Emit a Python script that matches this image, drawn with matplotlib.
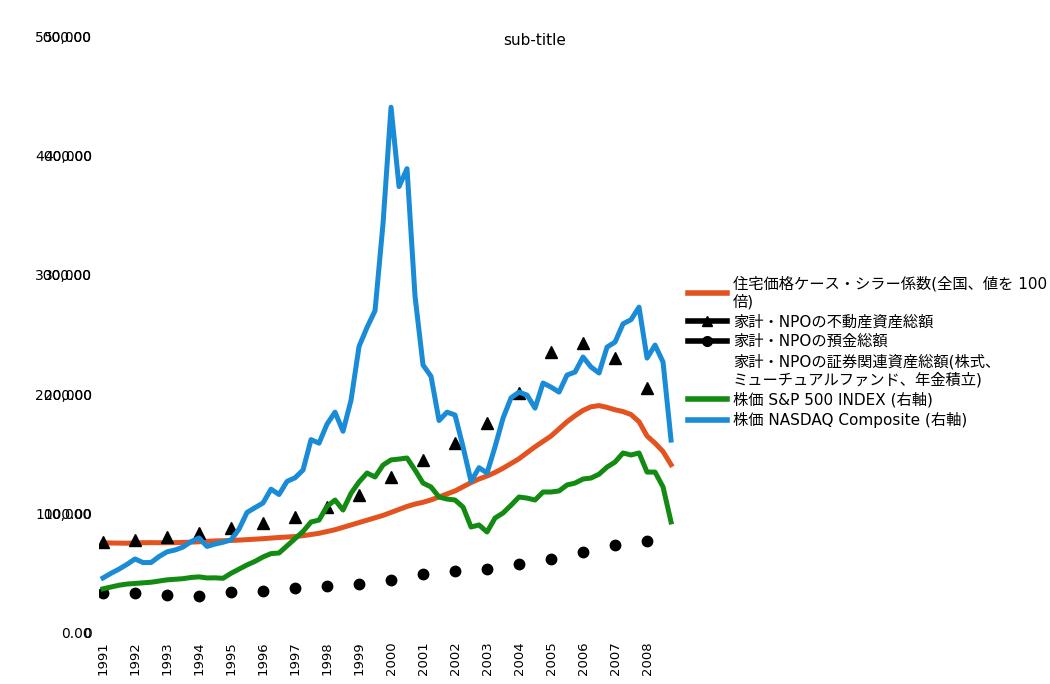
import matplotlib
matplotlib.use("Agg")
import matplotlib.pyplot as plt
from matplotlib.lines import Line2D
from matplotlib.ticker import FuncFormatter, MultipleLocator

plt.rcParams['font.family'] = ['DejaVu Sans', 'Noto Sans CJK JP']

# 年次データ (1991-2008)
years = list(range(1991, 2009))
real_estate = [7620, 7790, 8040, 8380, 8790, 9210, 9720, 10550, 11560, 13070,
               14490, 15910, 17590, 20100, 23530, 24290, 23030, 20520]
deposits = [3350, 3350, 3180, 3100, 3430, 3520, 3770, 3940, 4100, 4440,
            4940, 5190, 5360, 5780, 6200, 6780, 7370, 7700]

# 四半期データ (1991Q1-2008Q4)
case_shiller_x100 = [7560, 7540, 7530, 7520, 7550, 7560, 7570, 7560,
                     7560, 7570, 7590, 7610, 7640, 7680, 7710, 7730,
                     7750, 7780, 7820, 7860, 7900, 7950, 8000, 8040,
                     8080, 8150, 8250, 8350, 8500, 8650, 8850, 9050,
                     9250, 9450, 9650, 9850, 10100, 10350, 10600, 10800,
                     10950, 11150, 11400, 11650, 11900, 12250, 12600, 12900,
                     13150, 13450, 13800, 14200, 14600, 15100, 15600, 16050,
                     16500, 17100, 17700, 18200, 18650, 18950, 19050, 18900,
                     18700, 18550, 18300, 17700, 16500, 15900, 15200, 14100]
sp500 = [370, 385, 400, 410, 415, 420, 425, 435,
         445, 450, 455, 465, 470, 461, 462, 458,
         500, 535, 570, 600, 637, 665, 670, 730,
         790, 850, 930, 946, 1060, 1114, 1030, 1170,
         1265, 1340, 1307, 1407, 1450, 1457, 1466, 1365,
         1256, 1223, 1139, 1122, 1114, 1055, 888, 905,
         846, 963, 1005, 1070, 1139, 1130, 1114, 1181,
         1181, 1190, 1240, 1256, 1290, 1298, 1330, 1390,
         1432, 1508, 1491, 1508, 1348, 1348, 1223, 930]
nasdaq = [461, 500, 535, 575, 620, 590, 590, 640,
          680, 695, 720, 765, 796, 725, 745, 760,
          780, 870, 1010, 1050, 1089, 1205, 1160, 1270,
          1300, 1365, 1620, 1590, 1750, 1850, 1690, 1950,
          2400, 2560, 2700, 3430, 4405, 3740, 3890, 2820,
          2245, 2150, 1780, 1850, 1826, 1560, 1270, 1385,
          1340, 1560, 1800, 1970, 2018, 1993, 1884, 2094,
          2060, 2018, 2161, 2186, 2312, 2228, 2178, 2395,
          2437, 2590, 2625, 2730, 2303, 2412, 2270, 1616]

labels = ['住宅価格ケース・シラー係数(全国、値を 100\n倍)',
          '家計・NPOの不動産資産総額',
          '家計・NPOの預金総額',
          '家計・NPOの証券関連資産総額(株式、\nミューチュアルファンド、年金積立)',
          '株価 S&P 500 INDEX (右軸)',
          '株価 NASDAQ Composite (右軸)']
colors = ['#e2531f', '#000000', '#000000', 'none', '#138b13', '#1a8bd6']

q = list(range(len(nasdaq)))
qy = [4 * k for k in range(len(years))]

fig = plt.figure(figsize=(10.5, 6.84), dpi=100)
ax = fig.add_axes((0.0943, 0.0746, 0.5486, 0.8725))
ax2 = ax.twinx()

ax.plot(q, case_shiller_x100, color=colors[0], lw=3.6)
ax.plot(qy, real_estate, ls='none', marker='^', ms=9, color='black')
ax.plot(qy, deposits, ls='none', marker='o', ms=7.5, color='black')
ax2.plot(q, sp500, color=colors[4], lw=3.6)
ax2.plot(q, nasdaq, color=colors[5], lw=3.6)

ax.set_xlim(-0.5, 71.5)
ax.set_ylim(0, 50000)
ax2.set_ylim(0, 5000)
ax.yaxis.set_major_locator(MultipleLocator(10000))
ax2.yaxis.set_major_locator(MultipleLocator(1000))
ax.yaxis.set_major_formatter(FuncFormatter(lambda v, p: f'{v:,.0f}'))
ax2.yaxis.set_major_formatter(FuncFormatter(lambda v, p: f'{v:.2f}'))

# 右軸の目盛りも左側に描く
ax2.yaxis.set_ticks_position('left')
ax2.yaxis.set_label_position('left')

ax.set_xticks(qy)
ax.set_xticklabels([str(y) for y in years], rotation=90, fontsize=9.5)
for a in (ax, ax2):
    for s in a.spines.values():
        s.set_visible(False)
    a.tick_params(length=0)
    a.tick_params(axis='y', labelsize=10, pad=5)
ax.tick_params(axis='x', pad=6)

fig.text(0.5095, 0.9415, 'sub-title', ha='center', va='center', fontsize=11)

handles = [Line2D([], [], color=colors[0], lw=4),
           Line2D([], [], color='black', lw=4, marker='^', ms=7),
           Line2D([], [], color='black', lw=4, marker='o', ms=7),
           Line2D([], [], color='none', lw=4),
           Line2D([], [], color=colors[4], lw=4),
           Line2D([], [], color=colors[5], lw=4)]
leg = fig.legend(handles, labels, loc='upper left', bbox_to_anchor=(0.655, 0.597),
                 frameon=False, fontsize=11, handlelength=2.55, handletextpad=0.4,
                 labelspacing=0.3, borderpad=0, borderaxespad=0)
for t in leg.get_texts():
    t.set_linespacing(1.25)

plt.savefig('out.png', dpi=100)
